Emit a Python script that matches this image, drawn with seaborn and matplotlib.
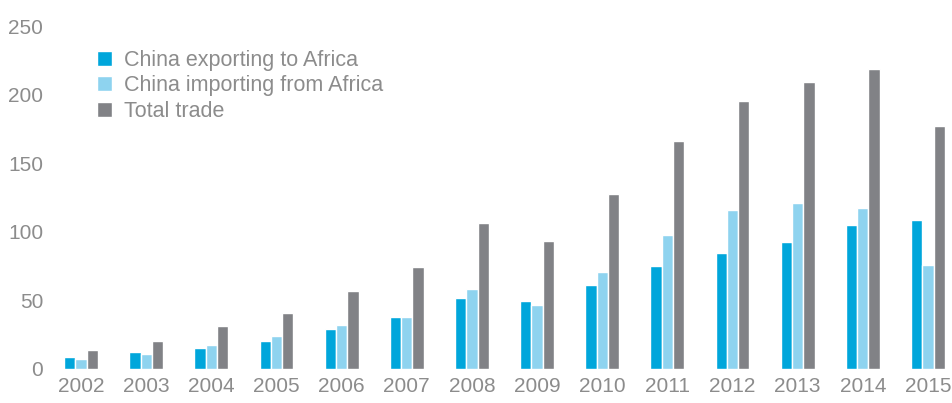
import matplotlib
matplotlib.use("Agg")
import matplotlib.pyplot as plt
import seaborn as sns
import pandas as pd

years = ["2002", "2003", "2004", "2005", "2006", "2007", "2008",
         "2009", "2010", "2011", "2012", "2013", "2014", "2015"]
exports = [8.8, 12.4, 15.3, 20.4, 29.2, 37.9, 51.8, 49.6, 61.3, 75.2, 84.7, 92.7, 105.0, 108.8]
imports = [7.3, 10.9, 17.5, 24.1, 32.1, 37.9, 58.4, 46.7, 70.8, 97.8, 116.0, 121.2, 117.5, 75.9]
total = [13.9, 20.4, 31.4, 40.9, 56.9, 74.5, 106.6, 93.4, 127.7, 166.4, 195.6, 209.5, 219.0, 177.4]
series = ["China exporting to Africa", "China importing from Africa", "Total trade"]
colors = ["#00A6DB", "#8ED3EF", "#818286"]
yticks = [0, 50, 100, 150, 200, 250]

rows = []
for name, vals in zip(series, [exports, imports, total]):
    for y, v in zip(years, vals):
        rows.append({"Year": y, "Series": name, "Value": v})
df = pd.DataFrame(rows)

sns.set_theme(style="white")
plt.rcParams["font.family"] = ["Liberation Sans", "DejaVu Sans"]
text_color = "#8C8C8C"

fig = plt.figure(figsize=(9.52, 4.03), dpi=100)
W, H = 952, 403
ax = fig.add_axes([50 / W, (H - 369) / H, (W - 50) / W, 343 / H])

sns.barplot(data=df, x="Year", y="Value", hue="Series", order=years,
            hue_order=series, palette=colors, width=0.52, ax=ax,
            edgecolor="white", linewidth=1.0, saturation=1)

ax.set_xlim((50 - 81) / 65.15, (952 - 81) / 65.15)
ax.set_ylim(0, 250)
ax.set_yticks(yticks)
ax.set_yticklabels([str(t) for t in yticks])
ax.set_xlabel("")
ax.set_ylabel("")
for s in ax.spines.values():
    s.set_visible(False)
ax.tick_params(axis="both", length=0, labelsize=15, colors=text_color)
ax.tick_params(axis="y", pad=5)
ax.tick_params(axis="x", pad=6)
ax.grid(False)

leg = ax.legend(loc="upper left", bbox_to_anchor=(97 / W, (H - 50) / H),
                bbox_transform=fig.transFigure, frameon=False, fontsize=15.5,
                handlelength=0.7, handleheight=0.7, handletextpad=0.55,
                labelspacing=0.2, borderaxespad=0, borderpad=0)
for t in leg.get_texts():
    t.set_color(text_color)

fig.savefig("out.png", dpi=100)
